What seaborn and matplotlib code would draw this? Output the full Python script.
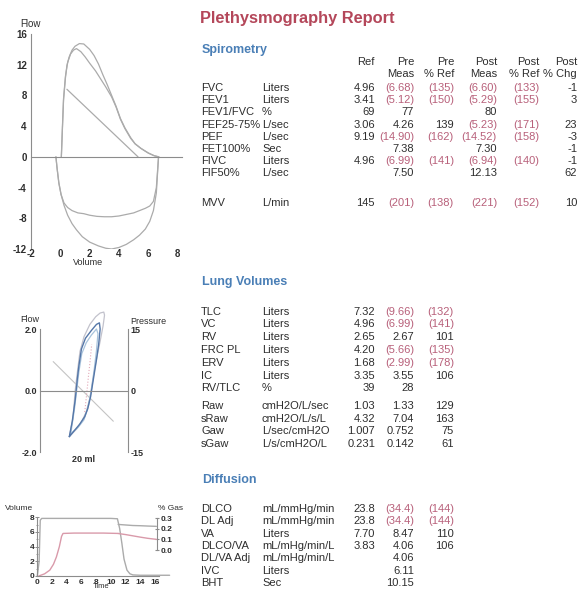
import numpy as np
import matplotlib
matplotlib.use('Agg')
import matplotlib.pyplot as plt
import seaborn as sns
from matplotlib.ticker import MultipleLocator

# ---------------- data ----------------
# flow-volume loop (volume in L, flow in L/s)
exp1_vol = [0.07, 0.15, 0.22, 0.35, 0.45, 0.6, 0.8, 1.0, 1.3, 1.6, 2.0, 2.3, 2.6, 2.9, 3.2, 3.5, 3.8, 4.1, 4.4, 4.8, 5.1, 5.5, 6.0, 6.4, 6.73]
exp1_flow = [0, 4.0, 7.4, 10.3, 11.9, 13.0, 13.9, 14.4, 14.75, 14.7, 14.0, 13.2, 12.1, 10.7, 9.4, 8.0, 6.6, 5.0, 3.8, 2.5, 1.7, 1.1, 0.5, 0.15, 0]
exp2_vol = [0.07, 0.15, 0.22, 0.35, 0.5, 0.7, 0.9, 1.1, 1.4, 1.7, 2.0, 2.4, 2.8, 3.1, 3.5, 3.8, 4.1, 4.4, 4.8, 5.1, 5.5, 6.0, 6.4, 6.7]
exp2_flow = [0, 4.2, 7.6, 10.5, 12.3, 13.4, 13.9, 14.1, 13.7, 13.0, 12.2, 11.2, 10.0, 9.1, 7.8, 6.5, 4.9, 3.7, 2.4, 1.7, 1.1, 0.5, 0.15, 0]
pred_vol = [0.45, 5.3]
pred_flow = [8.8, 0]
insp_vol = [-0.3, -0.22, -0.1, 0.05, 0.25, 0.5, 0.8, 1.2, 1.6, 2.0, 2.5, 3.0, 3.5, 4.0, 4.5, 5.0, 5.4, 5.8, 6.1, 6.35, 6.55, 6.7]
insp1_flow = [0, -1.5, -3.4, -4.9, -6.0, -6.6, -7.0, -7.3, -7.4, -7.6, -7.75, -7.8, -7.8, -7.7, -7.5, -7.3, -7.0, -6.7, -6.4, -5.8, -4.0, 0]
insp2_vol = [-0.3, -0.22, -0.1, 0.05, 0.25, 0.5, 0.8, 1.1, 1.5, 2.0, 2.6, 3.1, 3.5, 4.0, 4.5, 5.0, 5.4, 5.8, 6.1, 6.35, 6.55, 6.7]
insp2_flow = [0, -1.5, -3.4, -4.9, -6.3, -7.6, -8.7, -9.5, -10.4, -11.1, -11.6, -11.9, -12.0, -11.8, -11.4, -10.8, -10.2, -9.4, -8.4, -7.0, -4.7, 0]
fv_xticks = [-2, 0, 2, 4, 6, 8]
fv_yticks = [-12, -8, -4, 0, 4, 8, 12, 16]

# sRaw loops (volume shift in ml, flow in L/s)
outer_x = [-20, -15, -12, -9, -5.5, 0, 8, 16, 22, 27, 28, 26, 22, 16, 11, 8, 3, -3, -10, -20]
outer_y = [-1.5, -0.9, 0, 0.6, 1.27, 1.75, 2.15, 2.4, 2.52, 2.55, 2.45, 2.1, 1.6, 0.9, 0.2, -0.25, -0.7, -1.0, -1.25, -1.5]
blue_x = [-20, -16, -12, -9, -7, -3.5, 2, 10, 17, 21, 22, 20, 17, 13, 9, 5, 1, -6, -13, -20]
blue_y = [-1.5, -1.0, -0.3, 0.4, 0.8, 1.35, 1.7, 1.95, 2.15, 2.2, 2.0, 1.5, 1.0, 0.4, -0.2, -0.6, -0.85, -1.1, -1.3, -1.5]
lblue_x = [-18, -13, -10, -7, -3, 3, 10, 17, 19, 17, 14, 10, 6, 0, -8, -18]
lblue_y = [-1.4, -0.6, 0, 0.6, 1.2, 1.55, 1.8, 2.0, 1.85, 1.3, 0.7, 0, -0.5, -0.95, -1.2, -1.4]
pink_x = [1.0, 3.5, 6.0, 8.5, 10.5]
pink_y = [-0.7, -0.15, 0.45, 1.0, 1.5]
diag_x = [-42, 40]
diag_y = [0.94, -1.0]

# diffusion manoeuvre (time s, volume L, gas fraction %)
gray_t = [0, 0.25, 0.4, 0.6, 2, 4, 6, 8, 10, 10.9, 11.2, 11.5, 11.8, 12.2, 12.6, 13.0, 14, 16, 18]
gray_v = [0, 2, 7.6, 7.85, 7.85, 7.85, 7.85, 7.85, 7.85, 7.8, 6.5, 4.5, 2.3, 0.8, 0.3, 0.15, 0.1, 0.1, 0.1]
pink_t = [0.2, 1.0, 1.7, 2.2, 2.6, 3.0, 3.3, 3.5, 5, 7, 9, 11]
pink_v = [0, 0.3, 0.8, 1.6, 2.6, 4.0, 5.4, 5.8, 5.85, 5.85, 5.85, 5.8]
gas_t = [11.0, 12, 13, 14, 15, 16.2]
gas_gray = [0.24, 0.235, 0.23, 0.228, 0.225, 0.222]
gas_pink = [0.155, 0.145, 0.133, 0.121, 0.11, 0.10]

# tables
spiro_names = ['FVC', 'FEV1', 'FEV1/FVC', 'FEF25-75%', 'PEF', 'FET100%', 'FIVC', 'FIF50%', 'MVV']
spiro_units = ['Liters', 'Liters', '%', 'L/sec', 'L/sec', 'Sec', 'Liters', 'L/sec', 'L/min']
spiro_ref = ['4.96', '3.41', '69', '3.06', '9.19', '', '4.96', '', '145']
spiro_pre = ['(6.68)', '(5.12)', '77', '4.26', '(14.90)', '7.38', '(6.99)', '7.50', '(201)']
spiro_pre_pct = ['(135)', '(150)', '', '139', '(162)', '', '(141)', '', '(138)']
spiro_post = ['(6.60)', '(5.29)', '80', '(5.23)', '(14.52)', '7.30', '(6.94)', '12.13', '(221)']
spiro_post_pct = ['(133)', '(155)', '', '(171)', '(158)', '', '(140)', '', '(152)']
spiro_chg = ['-1', '3', '', '23', '-3', '-1', '-1', '62', '10']
spiro_head1 = ['Ref', 'Pre', 'Pre', 'Post', 'Post', 'Post']
spiro_head2 = ['', 'Meas', '% Ref', 'Meas', '% Ref', '% Chg']

lung_names = ['TLC', 'VC', 'RV', 'FRC PL', 'ERV', 'IC', 'RV/TLC', 'Raw', 'sRaw', 'Gaw', 'sGaw']
lung_units = ['Liters', 'Liters', 'Liters', 'Liters', 'Liters', 'Liters', '%',
              'cmH2O/L/sec', 'cmH2O/L/s/L', 'L/sec/cmH2O', 'L/s/cmH2O/L']
lung_ref = ['7.32', '4.96', '2.65', '4.20', '1.68', '3.35', '39', '1.03', '4.32', '1.007', '0.231']
lung_pre = ['(9.66)', '(6.99)', '2.67', '(5.66)', '(2.99)', '3.55', '28', '1.33', '7.04', '0.752', '0.142']
lung_pct = ['(132)', '(141)', '101', '(135)', '(178)', '106', '', '129', '163', '75', '61']

diff_names = ['DLCO', 'DL Adj', 'VA', 'DLCO/VA', 'DL/VA Adj', 'IVC', 'BHT']
diff_units = ['mL/mmHg/min', 'mL/mmHg/min', 'Liters', 'mL/mHg/min/L', 'mL/mHg/min/L', 'Liters', 'Sec']
diff_ref = ['23.8', '23.8', '7.70', '3.83', '', '', '']
diff_pre = ['(34.4)', '(34.4)', '8.47', '4.06', '4.06', '6.11', '10.15']
diff_pct = ['(144)', '(144)', '110', '106', '', '', '']

# ---------------- style ----------------
sns.set_style('white')
plt.rcParams['font.family'] = ['Liberation Sans', 'DejaVu Sans']
plt.rcParams['axes.unicode_minus'] = False

GRAY = '#ababab'
AXC = '#8c8c8c'
DARK = '#2e2e2e'
RED = '#b8607a'
TITLE_RED = '#b4475a'
BLUE_HEAD = '#4a7fb6'

W, H = 582, 589
fig = plt.figure(figsize=(W / 100, H / 100), dpi=100)


def fx(x):
    return x / W


def fy(y):
    return 1 - y / H


def rect(x0, y0, x1, y1):
    return [fx(x0), fy(y1), fx(x1) - fx(x0), fy(y0) - fy(y1)]


def line(ax, x, y, color, lw=1.0, ls='-'):
    sns.lineplot(x=x, y=y, ax=ax, color=color, lw=lw, ls=ls, sort=False,
                 estimator=None, legend=False)


def style_axis(ax):
    for s in ['top', 'right']:
        ax.spines[s].set_visible(False)
    for s in ['left', 'bottom']:
        ax.spines[s].set_color(AXC)
        ax.spines[s].set_linewidth(0.8)
    ax.tick_params(colors=AXC, labelcolor=DARK, labelsize=7, width=0.7)
    ax.patch.set_alpha(0)


# ---------------- flow-volume ----------------
ax1 = fig.add_axes(rect(31, 34, 182, 249))
style_axis(ax1)
for vx, fyv in [(exp1_vol, exp1_flow), (exp2_vol, exp2_flow), (pred_vol, pred_flow),
                (insp_vol, insp1_flow), (insp2_vol, insp2_flow)]:
    line(ax1, vx, fyv, GRAY, lw=0.9)
ax1.set_xlim(-2, 8.3)
ax1.set_ylim(-12, 16)
ax1.spines['bottom'].set_position(('data', 0))
ax1.spines['left'].set_bounds(-12, 16)
ax1.set_yticks(fv_yticks)
ax1.yaxis.set_minor_locator(MultipleLocator(1))
ax1.xaxis.set_major_locator(MultipleLocator(1))
ax1.tick_params(axis='x', which='both', labelbottom=False, direction='inout', length=3)
ax1.tick_params(axis='y', which='major', direction='inout', length=4, pad=1)
ax1.tick_params(axis='y', which='minor', direction='inout', length=2, colors=AXC)
for lab in ax1.get_yticklabels():
    lab.set_fontweight('bold')
for v in fv_xticks:
    ax1.text(v, -12.7, str(v), ha='center', va='center', fontsize=7,
             fontweight='bold', color=DARK, clip_on=False)
ax1.text(1.9, -13.75, 'Volume', ha='center', va='center', fontsize=6.5, color=DARK, clip_on=False)
ax1.set_xlabel('')
ax1.set_ylabel('')
fig.text(fx(20), fy(24), 'Flow', ha='left', va='center', fontsize=7, color=DARK)

# ---------------- sRaw loops ----------------
ax2 = fig.add_axes(rect(40, 329, 128, 452))
style_axis(ax2)
line(ax2, diag_x, diag_y, '#c4c4c4', lw=0.8)
line(ax2, outer_x, outer_y, '#c2c2cc', lw=0.9)
line(ax2, lblue_x, lblue_y, '#a8c3dc', lw=0.9)
line(ax2, blue_x, blue_y, '#5577a8', lw=1.0)
line(ax2, pink_x, pink_y, '#e3a9b8', lw=0.8, ls=':')
for l in ax2.lines:
    l.set_clip_on(False)
ax2.set_xlim(-60, 60)
ax2.set_ylim(-2, 2)
ax2.spines['bottom'].set_position(('data', 0))
ax2.set_xticks(np.arange(-60, 61, 20))
ax2.tick_params(axis='x', labelbottom=False, direction='inout', length=3)
ax2.set_yticks([-2, 0, 2])
ax2.set_yticklabels(['-2.0', '0.0', '2.0'], fontweight='bold')
ax2.tick_params(axis='y', length=0, pad=2, labelsize=6.5)
ax2.set_xlabel('')
ax2.set_ylabel('')
ax2b = ax2.twinx()
ax2b.set_ylim(-15, 15)
for s in ['top', 'left', 'bottom']:
    ax2b.spines[s].set_visible(False)
ax2b.spines['right'].set_color(AXC)
ax2b.spines['right'].set_linewidth(0.8)
ax2b.set_yticks([-15, 0, 15])
ax2b.set_yticklabels(['-15', '0', '15'], fontweight='bold')
ax2b.tick_params(axis='y', length=0, pad=2, labelsize=6.5, labelcolor=DARK)
ax2.text(0, -2.25, '20 ml', ha='center', va='center', fontsize=6.5, fontweight='bold',
         color=DARK, clip_on=False)
fig.text(fx(20), fy(320), 'Flow', ha='left', va='center', fontsize=6.5, color=DARK)
fig.text(fx(130), fy(321), 'Pressure', ha='left', va='center', fontsize=6.5, color=DARK)

# ---------------- diffusion trace ----------------
ax3 = fig.add_axes(rect(37.3, 517.3, 169.6, 576))
style_axis(ax3)
line(ax3, gray_t, gray_v, GRAY, lw=1.0)
line(ax3, pink_t, pink_v, '#d99aaa', lw=1.0)
for l in ax3.lines:
    l.set_clip_on(False)
ax3.set_xlim(0, 18)
ax3.set_ylim(0, 8)
ax3.spines['bottom'].set_bounds(0, 16.5)
ax3.set_xticks(np.arange(0, 17, 2))
ax3.set_yticks([0, 2, 4, 6, 8])
ax3.yaxis.set_minor_locator(MultipleLocator(1))
ax3.tick_params(axis='both', which='major', direction='inout', length=3, pad=0.5)
ax3.tick_params(axis='y', which='minor', direction='inout', length=2, colors=AXC)
for lab in ax3.get_xticklabels() + ax3.get_yticklabels():
    lab.set_fontweight('bold')
    lab.set_fontsize(6)
ax3.set_xlabel('')
ax3.set_ylabel('')
fig.text(fx(101), fy(586.5), 'Time', ha='center', va='center', fontsize=5.5, color=DARK)
ax3b = ax3.twinx()
line(ax3b, gas_t, gas_gray, GRAY, lw=1.0)
line(ax3b, gas_t, gas_pink, '#d99aaa', lw=1.0)
ax3b.set_ylim(-0.244, 0.307)
for s in ['top', 'left', 'bottom']:
    ax3b.spines[s].set_visible(False)
ax3b.spines['right'].set_position(('axes', 0.905))
ax3b.spines['right'].set_bounds(0, 0.3)
ax3b.spines['right'].set_color(AXC)
ax3b.spines['right'].set_linewidth(0.8)
ax3b.set_yticks([0, 0.1, 0.2, 0.3])
ax3b.set_yticklabels(['0.0', '0.1', '0.2', '0.3'], fontweight='bold')
ax3b.tick_params(axis='y', direction='inout', length=3, pad=1, labelsize=6,
                 colors=AXC, labelcolor=DARK)
ax3b.set_ylabel('')
fig.text(fx(5), fy(508), 'Volume', ha='left', va='center', fontsize=6, color=DARK)
fig.text(fx(158), fy(509), '% Gas', ha='left', va='center', fontsize=6, color=DARK)

# ---------------- report text ----------------
fig.text(fx(200), fy(18), 'Plethysmography Report', ha='left', va='center',
         fontsize=11.8, fontweight='bold', color=TITLE_RED)

TS = 8
NAME_X, UNIT_X = 201, 262


def cell(x, y, s):
    if s:
        fig.text(fx(x), fy(y), s, ha='right', va='center', fontsize=TS,
                 color=RED if s.startswith('(') else DARK)


def header(y, s):
    fig.text(fx(202), fy(y), s, ha='left', va='center', fontsize=9,
             fontweight='bold', color=BLUE_HEAD)


def label_row(y, name, unit):
    fig.text(fx(NAME_X), fy(y), name, ha='left', va='center', fontsize=TS, color=DARK)
    fig.text(fx(UNIT_X), fy(y), unit, ha='left', va='center', fontsize=TS, color=DARK)


# spirometry
header(50, 'Spirometry')
spiro_cols = [375, 414, 454, 497, 539, 577]
for cx, h1, h2 in zip(spiro_cols, spiro_head1, spiro_head2):
    cell(cx, 62, h1)
    cell(cx, 74, h2)
spiro_rows = [88, 100.2, 112.4, 124.6, 136.8, 149, 161.2, 173.4, 203]
for i, yy in enumerate(spiro_rows):
    label_row(yy, spiro_names[i], spiro_units[i])
    for cx, col in zip(spiro_cols, [spiro_ref, spiro_pre, spiro_pre_pct, spiro_post,
                                    spiro_post_pct, spiro_chg]):
        cell(cx, yy, col[i])

# lung volumes
header(282, 'Lung Volumes')
lung_rows = [311.7, 324.3, 337, 350, 362.7, 375.7, 388.3, 406, 418.7, 431.3, 443.7]
vol_cols = [375, 414, 454]
for i, yy in enumerate(lung_rows):
    label_row(yy, lung_names[i], lung_units[i])
    for cx, col in zip(vol_cols, [lung_ref, lung_pre, lung_pct]):
        cell(cx, yy, col[i])

# diffusion
header(480, 'Diffusion')
diff_rows = [509, 521.3, 533.6, 545.9, 558.2, 570.5, 582.8]
for i, yy in enumerate(diff_rows):
    label_row(yy, diff_names[i], diff_units[i])
    for cx, col in zip(vol_cols, [diff_ref, diff_pre, diff_pct]):
        cell(cx, yy, col[i])

fig.savefig('out.png', dpi=100)
